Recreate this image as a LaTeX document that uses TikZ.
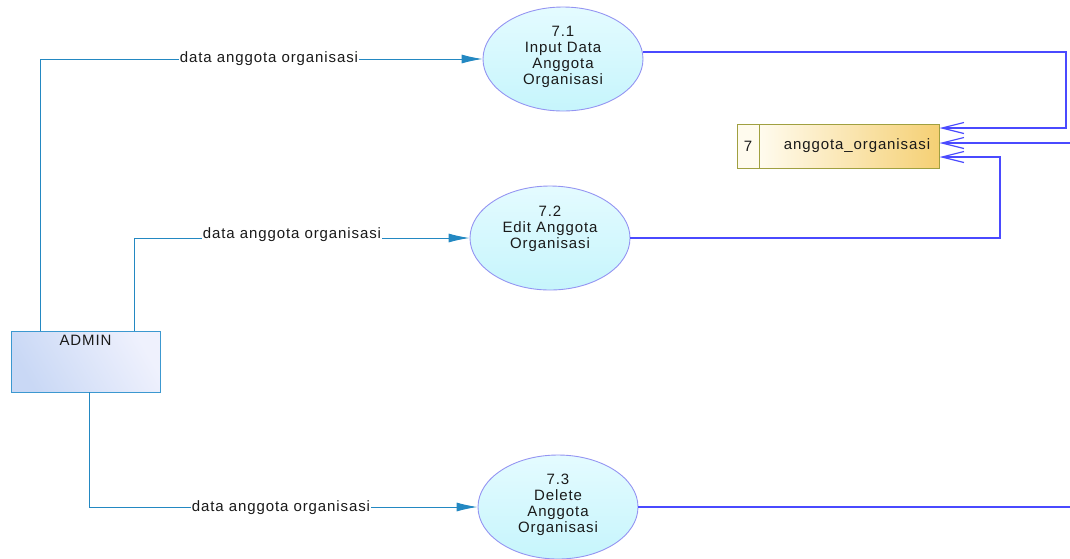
\documentclass[tikz,border=0pt]{standalone}
\usepackage{fontspec}
\setmainfont{Liberation Sans}[LetterSpace=6]
\usetikzlibrary{shapes.geometric,arrows.meta}
\definecolor{flowteal}{HTML}{2388C2}
\definecolor{flowblue}{HTML}{4A4AFF}
\definecolor{procedge}{HTML}{9494F2}
\definecolor{procfillA}{HTML}{E4FBFF}
\definecolor{procfillB}{HTML}{C6F5FC}
\definecolor{entedge}{HTML}{3C98D0}
\definecolor{entfillA}{HTML}{C9D8F5}
\definecolor{entfillB}{HTML}{EFF1FD}
\definecolor{storeedge}{HTML}{A0A040}
\definecolor{storefillA}{HTML}{FFFBEE}
\definecolor{storefillB}{HTML}{F5D074}
\definecolor{txt}{HTML}{1A1A1A}
\tikzset{
  every node/.style={font=\fontsize{15}{16}\selectfont, text=txt},
  proc/.style={ellipse, draw=procedge, line width=0.9pt, minimum width=160pt, minimum height=104pt,
    inner sep=0pt, top color=procfillA, bottom color=procfillB},
  proctext/.style={align=center, inner sep=0pt},
  entity/.style={rectangle, draw=entedge, line width=1pt, minimum width=149pt, minimum height=61pt,
    inner sep=0pt, left color=entfillA, right color=entfillB, shading angle=120},
  storebox/.style={rectangle, draw=storeedge, line width=1pt, minimum width=180pt, minimum height=44pt,
    inner sep=0pt, left color=storefillA, right color=storefillB},
  storeid/.style={rectangle, draw=storeedge, line width=1pt, minimum width=22pt, minimum height=44pt,
    inner sep=0pt, fill=storefillA},
  inflow/.style={draw=flowteal, line width=1pt, -{Latex[length=21pt,width=9pt]}},
  dsflow/.style={draw=flowblue, line width=1.2pt, -{Straight Barb[length=22pt,width=11pt,line width=1.2pt]}},
  outflow/.style={draw=flowblue, line width=1.2pt},
  lbl/.style={fill=white, inner xsep=1pt, inner ysep=1pt},
}
\begin{document}
\begin{tikzpicture}[x=1pt,y=-1pt]
\useasboundingbox (0,0) rectangle (1070,558);

% processes
\node[proc] (p1) at (563,59) {};
\node[proctext] (p1t) at (563,57) {7.1\\Input Data\\Anggota\\Organisasi};
\node[proc] (p2) at (550,238) {};
\node[proctext] (p2t) at (550,229) {7.2\\Edit Anggota\\Organisasi};
\node[proc] (p3) at (558,507) {};
\node[proctext] (p3t) at (558,505) {7.3\\Delete\\Anggota\\Organisasi};

% external entity
\node[entity] (admin) at (85.5,361.5) {};
\node[anchor=north, inner sep=0pt] (admint) at (85.5,335) {ADMIN};

% data store
\node[storeid] (sid) at (748,146) {7};
\node[storebox] (store) at (849,146) {};
\node[inner sep=0pt] (stxt) at (857,146) {anggota\_organisasi};

% free ends of connectors
\coordinate (r1) at (1066,128);
\coordinate (r2) at (1070,143);
\coordinate (r3) at (1000,157);
\coordinate (r4) at (1070,507);
\coordinate (a1) at (40,331);
\coordinate (a2) at (134,331);
\coordinate (a3) at (89,392);

% admin to processes
\draw[inflow] (a1) |- (p1.west);
\node[lbl] (l1) at (269,59) {data anggota organisasi};
\draw[inflow] (a2) |- (p2.west);
\node[lbl] (l2) at (292,235) {data anggota organisasi};
\draw[inflow] (a3) |- (p3.west);
\node[lbl] (l3) at (281,508) {data anggota organisasi};

% processes to data store
\draw[dsflow] (p1.5) -| (r1) -- (r1 -| store.east);
\draw[dsflow] (r2) -- (r2 -| store.east);
\draw[dsflow] (p2.east) -| (r3) -- (r3 -| store.east);
\draw[outflow] (p3.east) -- (p3.east -| r4);
\end{tikzpicture}
\end{document}
